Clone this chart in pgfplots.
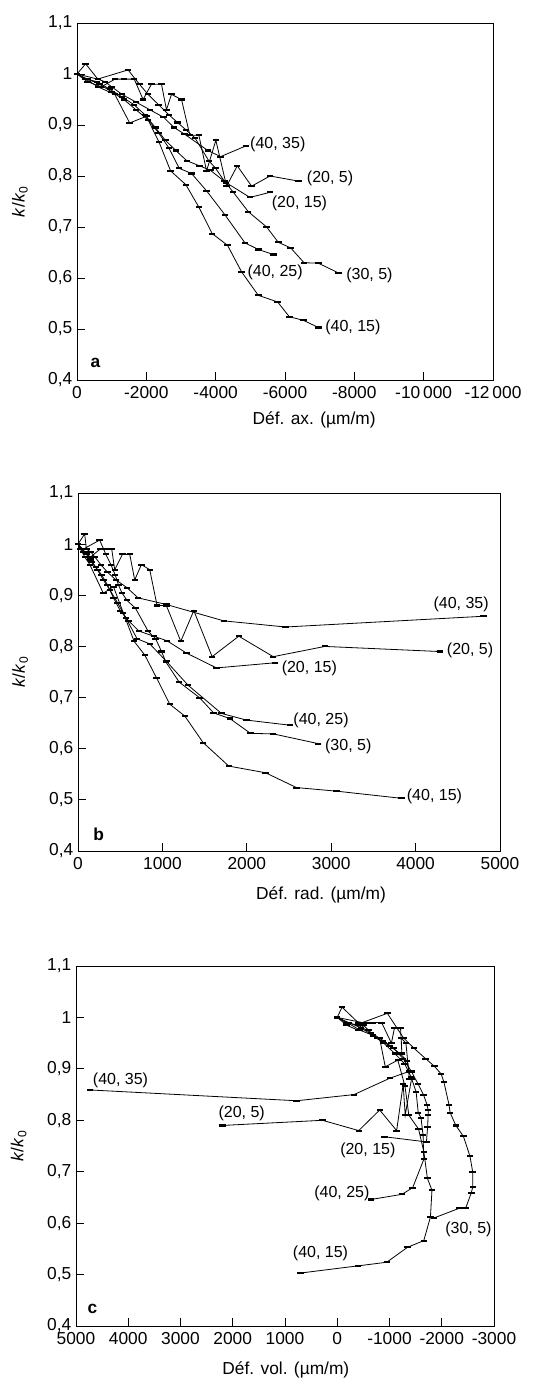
\documentclass[border=0pt]{standalone}
\usepackage{fontspec}
\setmainfont{Liberation Sans}
\usepackage{pgfplots}
\pgfplotsset{compat=1.18}
\usepackage{pgfplotstable}

% (40, 35)
\pgfplotstableread{
ax rad vol k
0 0 0 1.0
-250 79 -92 1.02
-600 100 -400 0.99
-800 150 -500 0.985
-1000 200 -600 0.975
-1300 270 -760 0.96
-1700 350 -1000 0.945
-2100 450 -1200 0.93
-2500 580 -1340 0.915
-2800 712 -1376 0.895
-3104 1047 -1010 0.882
-3775 1727 -321 0.850
-4141 2459 777 0.838
-4873 4803 4733 0.859
}\tA
% (20, 5)
\pgfplotstableread{
ax rad vol k
0 0 0 1.0
-300 60 -180 0.985
-700 150 -400 0.975
-1100 260 -580 0.99
-1350 330 -690 0.99
-1650 400 -850 0.99
-1907 435 -1037 0.95
-2148 526 -1096 0.98
-2437 613 -1211 0.98
-2581 672 -1237 0.93
-2726 751 -1224 0.96
-3015 850 -1315 0.95
-3255 937 -1381 0.88
-3515 1047 -1421 0.88
-3737 1218 -1301 0.81
-4006 1372 -1262 0.87
-4315 1589 -1137 0.78
-4623 1905 -813 0.82
-5037 2313 -411 0.78
-5567 2925 283 0.80
-6385 4289 2193 0.79
}\tB
% (20, 15)
\pgfplotstableread{
ax rad vol k
0 0 0 1.0
-250 40 -170 0.99
-580 90 -400 0.985
-950 150 -650 0.97
-1300 210 -880 0.955
-1640 280 -1080 0.94
-1960 350 -1260 0.92
-2260 420 -1420 0.895
-2550 500 -1550 0.87
-2850 600 -1650 0.85
-3166 723 -1720 0.83
-3534 897 -1740 0.82
-3850 1055 -1740 0.811
-4300 1285 -1730 0.787
-4989 1641 -1707 0.758
-5567 2332 -903 0.768
}\tC
% (40, 25)
\pgfplotstableread{
ax rad vol k
0 0 0 1.0
-300 40 -220 0.99
-650 100 -450 0.98
-1000 160 -680 0.965
-1350 230 -890 0.95
-1700 300 -1100 0.93
-2050 380 -1290 0.91
-2350 470 -1410 0.885
-2650 570 -1510 0.855
-2950 700 -1550 0.815
-3303 850 -1603 0.805
-3737 1047 -1643 0.771
-4266 1305 -1656 0.724
-4844 1700 -1444 0.669
-5230 1996 -1238 0.656
-5663 2510 -643 0.646
}\tD
% (30, 5)
\pgfplotstableread{
ax rad vol k
0 0 0 1.0
-600 60 -480 0.99
-1473 257 -959 1.008
-1800 330 -1140 0.98
-2050 390 -1270 0.96
-2350 440 -1470 0.94
-2650 480 -1690 0.92
-2900 520 -1860 0.905
-3150 580 -1990 0.89
-3400 680 -2040 0.875
-3800 830 -2140 0.83
-4000 920 -2160 0.815
-4250 990 -2270 0.79
-4500 1043 -2414 0.769
-4941 1200 -2541 0.73
-5470 1439 -2592 0.70
-5807 1607 -2593 0.67
-6164 1799 -2566 0.659
-6549 2044 -2461 0.63
-6963 2313 -2337 0.629
-7541 2846 -1849 0.61
}\tE
% (40, 15)
\pgfplotstableread{
ax rad vol k
0 0 0 1.0
-250 30 -190 0.99
-600 80 -440 0.975
-1090 140 -810 0.96
-1520 300 -920 0.904
-2000 420 -1160 0.917
-2369 536 -1297 0.866
-2700 665 -1370 0.81
-3140 792 -1556 0.783
-3515 929 -1657 0.739
-3900 1087 -1726 0.687
-4343 1265 -1813 0.664
-4748 1482 -1784 0.612
-5230 1787 -1656 0.566
-5788 2222 -1344 0.553
-6125 2589 -947 0.524
-6530 3064 -402 0.517
-6963 3834 705 0.503
}\tF

\pgfplotsset{
  panel/.style={
    scale only axis,
    ymin=0.4, ymax=1.1,
    ytick={0.4,0.5,0.6,0.7,0.8,0.9,1.0,1.1},
    yticklabels={{0,4},{0,5},{0,6},{0,7},{0,8},{0,9},{1},{1,1}},
    scaled x ticks=false, scaled y ticks=false,
    xtick pos=bottom, ytick pos=left,
    tick align=inside,
    major tick length=6pt,
    tick style={black, line width=0.6pt},
    axis line style={line width=0.6pt},
    ticklabel style={font=\fontsize{13}{15}\selectfont},
    xticklabel style={yshift=-1.5pt},
    label style={font=\fontsize{13}{15}\selectfont},
    ylabel={\textit{k}/\textit{k}\textsubscript{0}},
    ylabel style={at={(axis description cs:-0.137,0.5)}, anchor=center},
    clip=false,
    every axis plot post/.append style={black, solid, line width=0.6pt,
      mark=-, mark size=2.4pt,
      every mark/.append style={line width=1.6pt, solid, black}},
  },
}
\tikzset{
  clab/.style={anchor=west, font=\fontsize{12}{14}\selectfont, inner sep=0pt},
  plet/.style={anchor=west, font=\fontsize{13}{15}\selectfont\bfseries, inner sep=0pt},
}

\begin{document}
\begin{tikzpicture}
\useasboundingbox (0,0) rectangle (408pt,-1035.75pt);

% ---------- panel a ----------
\begin{axis}[panel,
  at={(57.75pt,-17.25pt)}, anchor=north west,
  width=312pt, height=267.75pt,
  x dir=reverse, xmin=-12000, xmax=0,
  xtick={-12000,-10000,-8000,-6000,-4000,-2000,0},
  xticklabels={-12\,000,-10\,000,-8000,-6000,-4000,-2000,0},
  xlabel={Déf. ax. (µm/m)},
  xlabel style={at={(axis description cs:0.57,-0.112)}, anchor=center},
]
\addplot table[x=ax,y=k]{\tA};
\addplot table[x=ax,y=k]{\tB};
\addplot table[x=ax,y=k]{\tC};
\addplot table[x=ax,y=k]{\tD};
\addplot table[x=ax,y=k]{\tE};
\addplot table[x=ax,y=k]{\tF};
\node[clab] at (axis cs:-4990,0.862) {(40, 35)};
\node[clab] at (axis cs:-6626,0.795) {(20, 5)};
\node[clab] at (axis cs:-5615,0.747) {(20, 15)};
\node[clab] at (axis cs:-4912,0.612) {(40, 25)};
\node[clab] at (axis cs:-7762,0.606) {(30, 5)};
\node[clab] at (axis cs:-7156,0.504) {(40, 15)};
\node[plet] at (axis cs:-385,0.433) {a};
\end{axis}

% ---------- panel b ----------
\begin{axis}[panel,
  at={(58.5pt,-369.75pt)}, anchor=north west,
  width=316.5pt, height=268.5pt,
  xmin=0, xmax=5000,
  xtick={0,1000,2000,3000,4000,5000},
  xticklabels={0,1000,2000,3000,4000,5000},
  xlabel={Déf. rad. (µm/m)},
  xlabel style={at={(axis description cs:0.576,-0.123)}, anchor=center},
]
\addplot table[x=rad,y=k]{\tA};
\addplot table[x=rad,y=k]{\tB};
\addplot table[x=rad,y=k]{\tC};
\addplot table[x=rad,y=k]{\tD};
\addplot table[x=rad,y=k]{\tE};
\addplot table[x=rad,y=k]{\tF};
\node[clab] at (axis cs:4210,0.882) {(40, 35)};
\node[clab] at (axis cs:4368,0.792) {(20, 5)};
\node[clab] at (axis cs:2411,0.758) {(20, 15)};
\node[clab] at (axis cs:2550,0.655) {(40, 25)};
\node[clab] at (axis cs:2925,0.605) {(30, 5)};
\node[clab] at (axis cs:3894,0.507) {(40, 15)};
\node[plet] at (axis cs:178,0.432) {b};
\end{axis}

% ---------- panel c ----------
\begin{axis}[panel,
  at={(57pt,-724.5pt)}, anchor=north west,
  width=313.5pt, height=270pt,
  x dir=reverse, xmin=-3000, xmax=5000,
  xtick={-3000,-2000,-1000,0,1000,2000,3000,4000,5000},
  xticklabels={-3000,-2000,-1000,0,1000,2000,3000,4000,5000},
  xlabel={Déf. vol. (µm/m)},
  xlabel style={at={(axis description cs:0.502,-0.122)}, anchor=center},
]
\addplot table[x=vol,y=k]{\tA};
\addplot table[x=vol,y=k]{\tB};
\addplot table[x=vol,y=k]{\tC};
\addplot table[x=vol,y=k]{\tD};
\addplot table[x=vol,y=k]{\tE};
\addplot table[x=vol,y=k]{\tF};
\node[clab] at (axis cs:4681,0.878) {(40, 35)};
\node[clab] at (axis cs:2276,0.813) {(20, 5)};
\node[clab] at (axis cs:-53,0.742) {(20, 15)};
\node[clab] at (axis cs:444,0.657) {(40, 25)};
\node[clab] at (axis cs:-2063,0.587) {(30, 5)};
\node[clab] at (axis cs:853,0.541) {(40, 15)};
\node[plet] at (axis cs:4783,0.434) {c};
\end{axis}
\end{tikzpicture}
\end{document}
